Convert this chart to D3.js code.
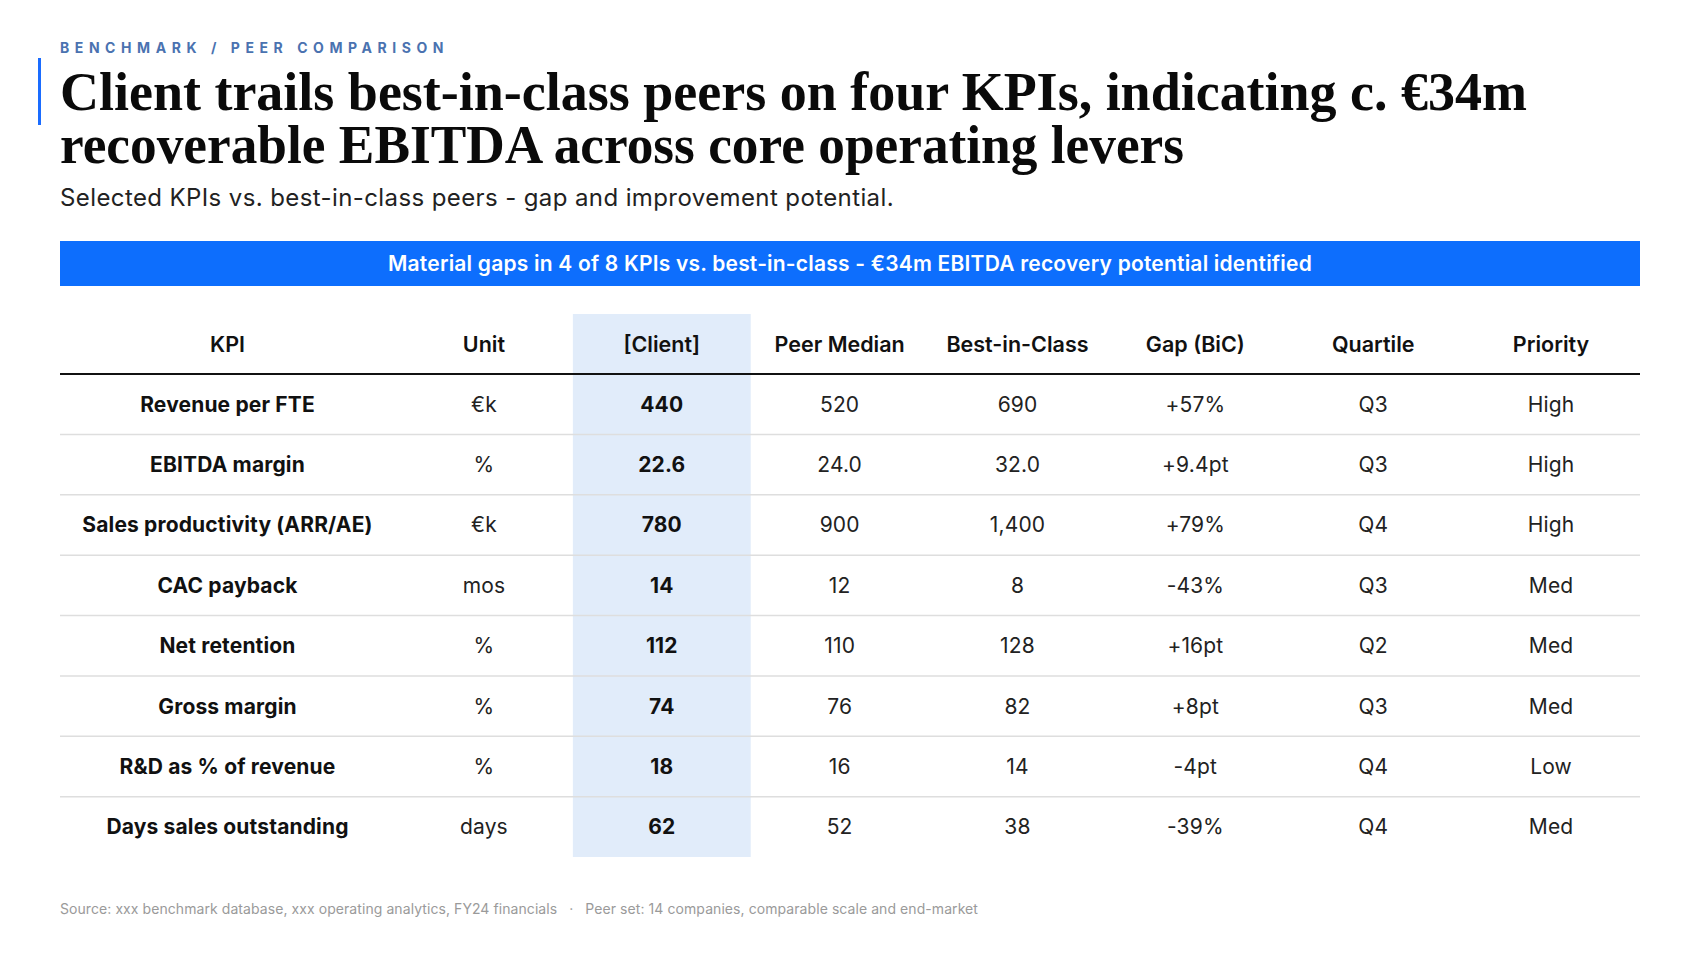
<!DOCTYPE html>
<html>
<head>
<meta charset="utf-8">
<script src="https://cdn.jsdelivr.net/npm/d3@7/dist/d3.min.js"></script>
<style>
  html, body { margin: 0; padding: 0; background: #fff; }
  svg text { font-family: Inter, "Noto Sans", sans-serif; }
</style>
</head>
<body>
<svg id="chart" width="1700" height="956"></svg>
<script>
// table content
var columns = ["KPI", "Unit", "[Client]", "Peer Median", "Best-in-Class", "Gap (BiC)", "Quartile", "Priority"];
var kpis = ["Revenue per FTE", "EBITDA margin", "Sales productivity (ARR/AE)", "CAC payback",
            "Net retention", "Gross margin", "R&D as % of revenue", "Days sales outstanding"];
var units = ["€k", "%", "€k", "mos", "%", "%", "%", "days"];
var client = [440, 22.6, 780, 14, 112, 74, 18, 62];
var peerMedian = [520, 24.0, 900, 12, 110, 76, 16, 52];
var bestInClass = [690, 32.0, 1400, 8, 128, 82, 14, 38];
var decimals = [0, 1, 0, 0, 0, 0, 0, 0];
var gaps = ["+57%", "+9.4pt", "+79%", "-43%", "+16pt", "+8pt", "-4pt", "-39%"];
var quartiles = ["Q3", "Q3", "Q4", "Q3", "Q2", "Q3", "Q4", "Q4"];
var priorities = ["High", "High", "High", "Med", "Med", "Med", "Low", "Med"];

var eyebrow = "BENCHMARK / PEER COMPARISON";
var titleLines = ["Client trails best-in-class peers on four KPIs, indicating c. €34m",
                  "recoverable EBITDA across core operating levers"];
var subtitle = "Selected KPIs vs. best-in-class peers - gap and improvement potential.";
var banner = "Material gaps in 4 of 8 KPIs vs. best-in-class - €34m EBITDA recovery potential identified";
var footer = "Source: xxx benchmark database, xxx operating analytics, FY24 financials   \u00b7   Peer set: 14 companies, comparable scale and end-market";

var svg = d3.select("#chart");
var left = 60, right = 1640;

// stretch a line's tracking so it spans the same width as on the slide
function fitWidth(sel, target) {
  var node = sel.node();
  var n = sel.text().length;
  var w = node.getComputedTextLength();
  var ls = +(sel.attr("letter-spacing") || 0);
  sel.attr("letter-spacing", ls + (target - w) / n);
}

// --- header block
svg.append("rect").attr("x", 38).attr("y", 58).attr("width", 3).attr("height", 67).attr("fill", "#1a6cff");

svg.append("text")
  .attr("x", left).attr("y", 53)
  .attr("font-size", 14).attr("font-weight", 700)
  .attr("letter-spacing", 4.6)
  .attr("fill", "#4a72b0")
  .text(eyebrow)
  .call(fitWidth, 389);

var titleWidths = [1467, 1124];
svg.selectAll("text.title").data(titleLines).enter().append("text")
  .attr("class", "title")
  .attr("x", left)
  .attr("y", function(d, i) { return 110 + i * 53; })
  .style("font-family", "'Liberation Serif', 'DejaVu Serif', serif")
  .attr("font-size", 54).attr("font-weight", 700)
  .attr("fill", "#0a0a0a")
  .text(function(d) { return d; })
  .each(function(d, i) {
    // squeeze the serif to the width of the original display face
    d3.select(this).attr("textLength", titleWidths[i]).attr("lengthAdjust", "spacingAndGlyphs");
  });

svg.append("text")
  .attr("x", left).attr("y", 206)
  .attr("font-size", 24).attr("fill", "#222")
  .text(subtitle)
  .call(fitWidth, 834);

// --- banner
svg.append("rect").attr("x", left).attr("y", 241).attr("width", right - left).attr("height", 45).attr("fill", "#0d6efd");
svg.append("text")
  .attr("x", (left + right) / 2).attr("y", 263.5)
  .attr("text-anchor", "middle").attr("dominant-baseline", "central")
  .attr("font-size", 21).attr("font-weight", 600).attr("fill", "#fff")
  .text(banner)
  .call(fitWidth, 924);

// --- table
var kpiColRight = 395;
var colX = d3.scaleBand().domain(columns.slice(1)).range([kpiColRight, right]);
function colCenter(c) {
  return c === columns[0] ? (left + kpiColRight) / 2 : colX(c) + colX.bandwidth() / 2;
}

var headTop = 314, headLine = 374, tableBottom = 857;
var rowY = d3.scaleBand().domain(kpis).range([headLine, tableBottom]);

// client column highlight
svg.append("rect")
  .attr("x", colX(columns[2])).attr("y", headTop)
  .attr("width", colX.bandwidth()).attr("height", tableBottom - headTop)
  .attr("fill", "#e1ecfa");

svg.selectAll("text.head").data(columns).enter().append("text")
  .attr("class", "head")
  .attr("x", colCenter)
  .attr("y", (headTop + headLine) / 2)
  .attr("text-anchor", "middle").attr("dominant-baseline", "central")
  .attr("font-size", 21.5).attr("font-weight", 600).attr("fill", "#111")
  .text(function(d) { return d; });

svg.append("line")
  .attr("x1", left).attr("x2", right)
  .attr("y1", headLine).attr("y2", headLine)
  .attr("stroke", "#111").attr("stroke-width", 2);

svg.selectAll("line.sep").data(kpis.slice(1)).enter().append("line")
  .attr("class", "sep")
  .attr("x1", left).attr("x2", right)
  .attr("y1", function(d) { return rowY(d); })
  .attr("y2", function(d) { return rowY(d); })
  .attr("stroke", "#dedede").attr("stroke-width", 1.5);

var rows = kpis.map(function(k, i) {
  var f = d3.format(decimals[i] ? ",." + decimals[i] + "f" : ",");
  return [k, units[i], f(client[i]), f(peerMedian[i]), f(bestInClass[i]), gaps[i], quartiles[i], priorities[i]];
});

var rowG = svg.selectAll("g.row").data(rows).enter().append("g")
  .attr("class", "row")
  .attr("transform", function(d, i) { return "translate(0," + (rowY(kpis[i]) + rowY.bandwidth() / 2) + ")"; });

rowG.selectAll("text").data(function(d) { return d; }).enter().append("text")
  .attr("x", function(d, j) { return colCenter(columns[j]); })
  .attr("text-anchor", "middle").attr("dominant-baseline", "central")
  .attr("font-size", 21).attr("letter-spacing", 0.15)
  .attr("font-weight", function(d, j) { return (j === 0 || j === 2) ? 700 : 400; })
  .attr("fill", function(d, j) { return (j === 0 || j === 2) ? "#111" : "#222"; })
  .text(function(d) { return d; });

// --- footer
svg.append("text")
  .attr("x", left).attr("y", 914)
  .attr("font-size", 14).attr("fill", "#9a9a9a")
  .style("white-space", "pre")
  .text(footer)
  .call(fitWidth, 918);
</script>
</body>
</html>
